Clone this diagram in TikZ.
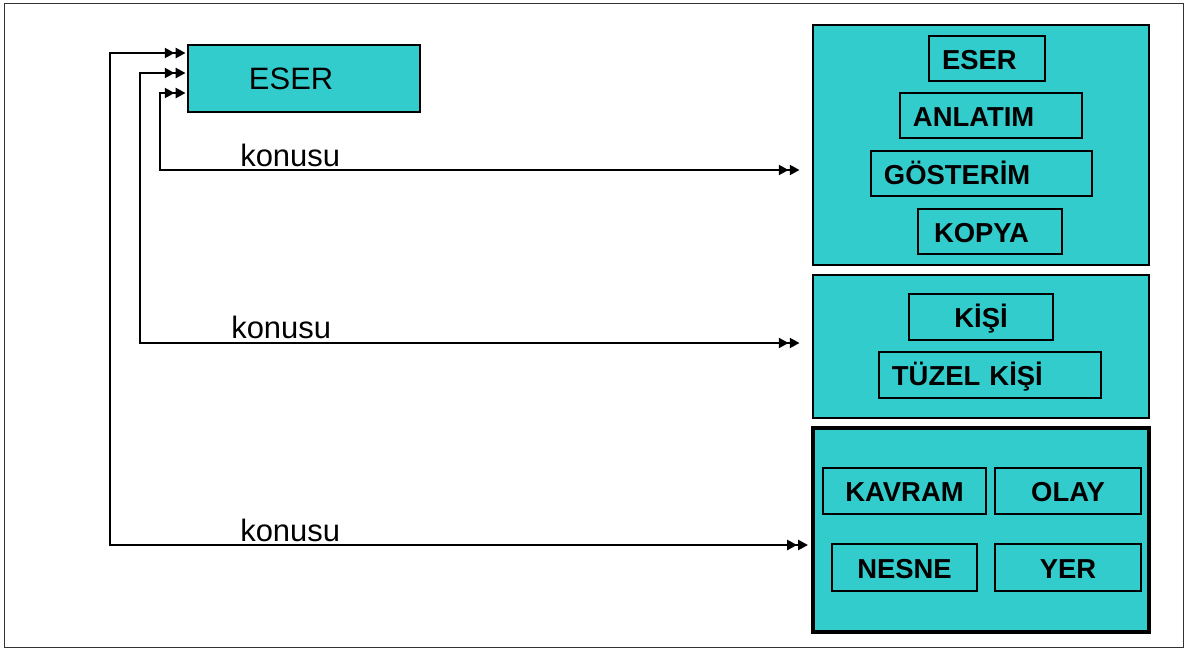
\documentclass[tikz,border=0pt]{standalone}
\usepackage{fontspec}
\setmainfont{Liberation Sans}
\usetikzlibrary{arrows.meta}
\definecolor{turkuaz}{HTML}{33CCCC}
\tikzset{ucu/.tip={Triangle[length=7pt,width=7pt,sep=0.8pt]}}

\begin{document}
\begin{tikzpicture}[x=0.025cm,y=-0.025cm,
  kutu/.style={draw,line width=1.8pt,fill=turkuaz,inner sep=0pt},
  etiket/.style={draw,line width=1.8pt,inner sep=0pt,text height=15.5pt,text depth=0pt,
    font=\fontsize{19.5}{22}\selectfont\bfseries},
  solda/.style={text width=#1,align=left,inner xsep=0.325cm},
  yazi/.style={inner sep=0pt,anchor=base west,font=\fontsize{22}{26}\selectfont},
  bag/.style={line width=1.9pt,{ucu[]ucu[]}-{ucu[]ucu[]}}]
\useasboundingbox (0,0) rectangle (1188,651);
\draw[line width=1pt,black!80] (4.5,3.5) rectangle (1183.5,647.5);

% kaynak
\node[kutu,minimum width=5.8cm,minimum height=1.675cm,text width=2.75cm,inner xsep=1.525cm,
  align=left,text height=16pt,text depth=0pt,font=\fontsize{22}{26}\selectfont] (eser) at (304,78.5) {ESER};

% hedef kutular
\node[kutu,minimum width=8.4cm,minimum height=6cm] (tur) at (981,145) {};
\node[kutu,minimum width=8.4cm,minimum height=3.575cm] (kisi) at (981,346.5) {};
\node[kutu,line width=3.4pt,minimum width=8.4cm,minimum height=5.1cm] (konu) at (981,530) {};

\node[etiket,solda=2.25cm,minimum height=1.125cm] (t1) at (987,58.5) {ESER};
\node[etiket,solda=3.9cm,minimum height=1.125cm] (t2) at (991,115.5) {ANLATIM};
\node[etiket,solda=4.875cm,minimum height=1.125cm] (t3) at (981.5,173.5) {GÖSTERİM};
\node[etiket,solda=2.8cm,inner xsep=0.4cm,minimum height=1.125cm] (t4) at (990,231.5) {KOPYA};

\node[etiket,minimum width=3.6cm,minimum height=1.15cm] (k1) at (981,317) {KİŞİ};
\node[etiket,solda=4.9cm,minimum height=1.15cm] (k2) at (990,375) {TÜZEL KİŞİ};

\node[etiket,minimum width=4.075cm,minimum height=1.15cm] (s1) at (904.5,491) {KAVRAM};
\node[etiket,minimum width=3.65cm,minimum height=1.15cm] (s2) at (1068,491) {OLAY};
\node[etiket,minimum width=3.625cm,minimum height=1.175cm] (s3) at (904.5,567.5) {NESNE};
\node[etiket,minimum width=3.65cm,minimum height=1.175cm] (s4) at (1068,567.5) {YER};

% baglantilar
\coordinate (y1) at (0,53);
\coordinate (y2) at (0,73);
\coordinate (y3) at (0,93);
\coordinate (d1) at (110,545);
\coordinate (d2) at (140,343);
\coordinate (d3) at (160,170);

\draw[bag,shorten >=1pt] (eser.west |- y1) -| (d1) -- (konu.west |- d1);
\draw[bag,shorten >=7.8pt] (eser.west |- y2) -| (d2) -- (kisi.west |- d2);
\draw[bag,shorten >=7.8pt] (eser.west |- y3) -| (d3) -- (tur.west |- d3);

\node[yazi] (l3) at (240,166.5) {konusu};
\node[yazi] (l2) at (231,338.5) {konusu};
\node[yazi] (l1) at (240,541) {konusu};
\end{tikzpicture}
\end{document}
